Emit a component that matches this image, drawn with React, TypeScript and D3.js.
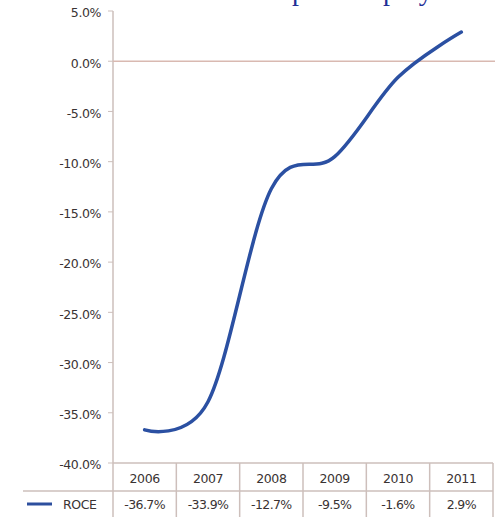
import React from "react";
import * as d3 from "d3";

const years = ["2006", "2007", "2008", "2009", "2010", "2011"];
const roce = [-36.7, -33.9, -12.7, -9.5, -1.6, 2.9];
const roceLabels = ["-36.7%", "-33.9%", "-12.7%", "-9.5%", "-1.6%", "2.9%"];
const yTicks = [5, 0, -5, -10, -15, -20, -25, -30, -35, -40];
const seriesName = "ROCE";
const title = "Return on capital employed";

const W = 498;
const H = 517;
const left = 113;
const right = 493;
const yTop = 11;
const yBottom = 463;
const headerBottom = 491;
const tableBottom = 517;

export default function App() {
  const x = d3.scaleBand<string>().domain(years).range([left, right]);
  const y = d3.scaleLinear().domain([-40, 5]).range([yBottom, yTop]);
  const line = d3
    .line<number>()
    .x((_, i) => (x(years[i]) as number) + x.bandwidth() / 2)
    .y((d) => y(d))
    .curve(d3.curveCardinal.tension(0));
  const font = "'DejaVu Sans', 'Open Sans', sans-serif";
  const fs = 12.5;
  const grid = "#cdbfbb";
  const text = "#3a3333";
  return (
    <svg
      width={W}
      height={H}
      style={{ position: "absolute", left: 0, top: 0, display: "block", background: "#fff" }}
    >
      <text x={149} y={0} fontFamily="'Liberation Serif', serif" fontSize={28} fill="#1f2f96">
        {title}
      </text>
      {/* y axis */}
      <line x1={left} x2={left} y1={yTop} y2={tableBottom} stroke={grid} strokeWidth={1.5} />
      {yTicks.map((t) => (
        <g key={t}>
          <line x1={left - 5} x2={left} y1={y(t)} y2={y(t)} stroke={grid} strokeWidth={1} />
          <text
            x={101}
            y={y(t) + 2}
            dy="0.35em"
            textAnchor="end"
            fontFamily={font}
            fontSize={fs}
            letterSpacing={-0.4}
            fill={text}
          >
            {t.toFixed(1) + "%"}
          </text>
        </g>
      ))}
      {/* zero line */}
      <line x1={left} x2={495} y1={y(0)} y2={y(0)} stroke="#d9b9b1" strokeWidth={1.5} />
      {/* table */}
      <line x1={left} x2={right} y1={yBottom} y2={yBottom} stroke={grid} strokeWidth={1.5} />
      <line x1={23} x2={right} y1={headerBottom} y2={headerBottom} stroke={grid} strokeWidth={1.5} />
      {years.map((yr, i) => (
        <g key={yr}>
          <line
            x1={(x(yr) as number) + x.bandwidth()}
            x2={(x(yr) as number) + x.bandwidth()}
            y1={yBottom}
            y2={tableBottom}
            stroke={grid}
            strokeWidth={1.5}
          />
          <text
            x={(x(yr) as number) + x.bandwidth() / 2}
            y={(yBottom + headerBottom) / 2 + 2}
            dy="0.35em"
            textAnchor="middle"
            fontFamily={font}
            fontSize={fs}
            letterSpacing={-0.4}
            fill={text}
          >
            {yr}
          </text>
          <text
            x={(x(yr) as number) + x.bandwidth() / 2}
            y={(headerBottom + tableBottom) / 2 + 1}
            dy="0.35em"
            textAnchor="middle"
            fontFamily={font}
            fontSize={fs}
            letterSpacing={-0.6}
            fill={text}
          >
            {roceLabels[i]}
          </text>
        </g>
      ))}
      <line x1={27} x2={52} y1={504} y2={504} stroke="#2d4f9e" strokeWidth={3} />
      <text x={63} y={505} dy="0.35em" fontFamily={font} fontSize={fs} letterSpacing={-0.4} fill={text}>
        {seriesName}
      </text>
      {/* series */}
      <path
        d={line(roce) || ""}
        fill="none"
        stroke="#2b50a2"
        strokeWidth={3.5}
        strokeLinecap="round"
      />
    </svg>
  );
}
